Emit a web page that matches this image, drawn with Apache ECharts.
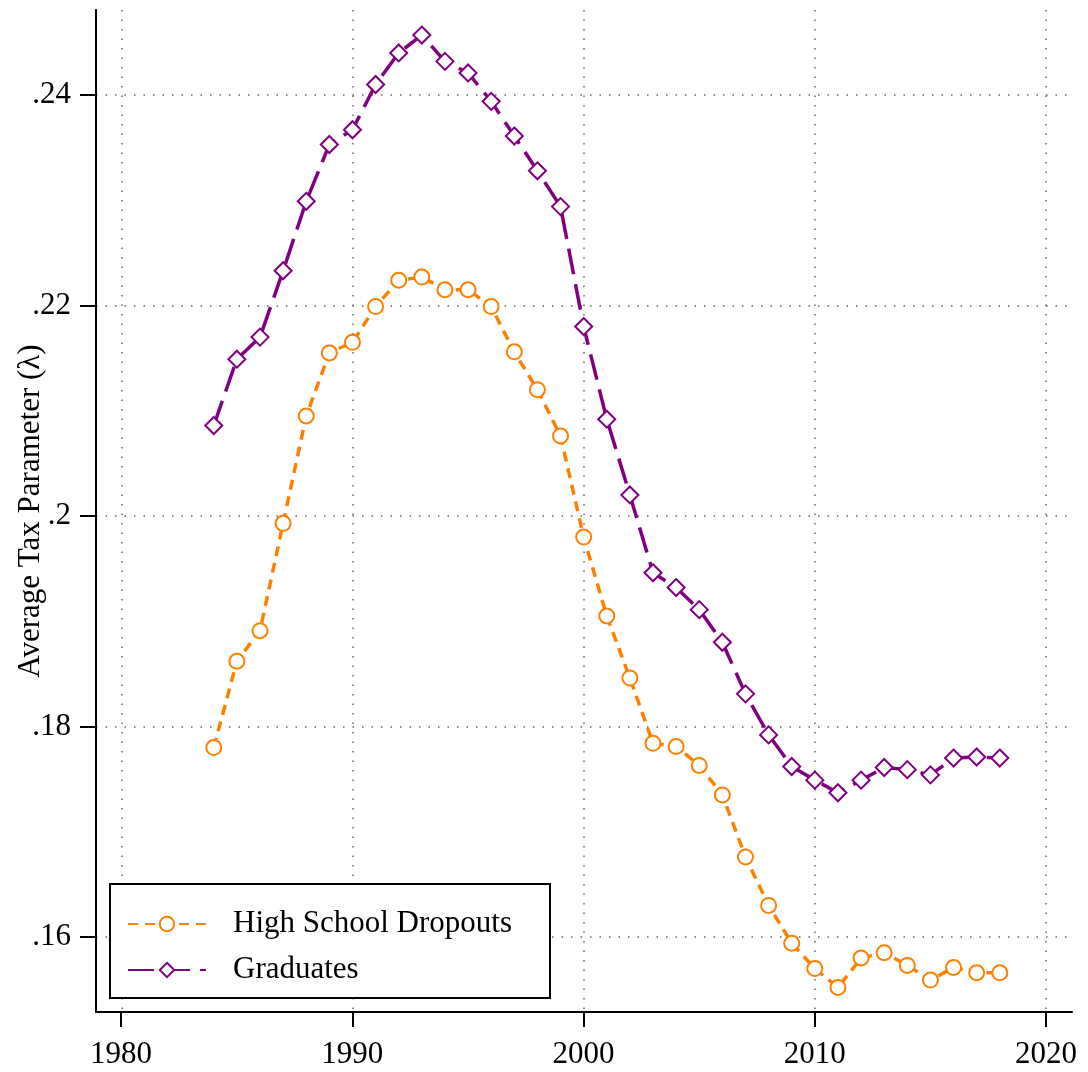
<!DOCTYPE html>
<html>
<head>
<meta charset="utf-8">
<script src="https://cdn.jsdelivr.net/npm/echarts@6/dist/echarts.min.js"></script>
<style>
html,body{margin:0;padding:0;background:#fff;}
#chart{width:1088px;height:1072px;}
</style>
</head>
<body>
<div id="chart"></div>
<script>
const years = [1984,1985,1986,1987,1988,1989,1990,1991,1992,1993,1994,1995,1996,1997,1998,1999,2000,2001,2002,2003,2004,2005,2006,2007,2008,2009,2010,2011,2012,2013,2014,2015,2016,2017,2018];
const dropouts = [0.1780,0.1862,0.1891,0.1993,0.2095,0.2155,0.2165,0.2199,0.2224,0.2227,0.2215,0.2215,0.2199,0.2156,0.2120,0.2076,0.1980,0.1905,0.1846,0.1784,0.1781,0.1763,0.1735,0.1676,0.1630,0.1594,0.1570,0.1552,0.1580,0.1585,0.1573,0.1559,0.1571,0.1566,0.1566];
const graduates = [0.2086,0.2149,0.2170,0.2233,0.2299,0.2353,0.2367,0.2410,0.2440,0.2457,0.2432,0.2421,0.2394,0.2361,0.2328,0.2294,0.2180,0.2092,0.2020,0.1946,0.1932,0.1911,0.1880,0.1831,0.1792,0.1762,0.1749,0.1737,0.1749,0.1761,0.1759,0.1754,0.1770,0.1771,0.1770];
const xTicks = [1980,1990,2000,2010,2020];
const yTicks = [0.16,0.18,0.20,0.22,0.24];
const seriesNames = ['High School Dropouts','Graduates'];
const yAxisTitle = 'Average Tax Parameter (λ)';

const FONT = '"Liberation Serif", "DejaVu Serif", serif';
const chart = echarts.init(document.getElementById('chart'));
const gridLine = {show:true, lineStyle:{color:'#666', width:1.5, type:[1.5,8]}};
const fmtY = v => {
  let s = (Math.round(v*100)/100).toString();
  return s.replace(/^0/, '');
};
// plot area: x 96..1072, y 10..1012 ; tick span: x 1980..2020 -> 121..1046, y .16...24 -> 937..95
chart.setOption({
  animation:false,
  backgroundColor:'#fff',
  grid:[
    {left:96, right:16, top:10, bottom:60, containLabel:false, outerBoundsMode:'none'},
    {left:121, right:42, top:95, bottom:135, containLabel:false, outerBoundsMode:'none'}
  ],
  xAxis:[
    {
      gridIndex:0, type:'value', min:1978.906, max:2021.124,
      axisLine:{show:true, onZero:false, lineStyle:{color:'#000', width:2}},
      axisTick:{show:false, customValues:xTicks},
      axisLabel:{show:false, customValues:xTicks},
      splitLine:gridLine
    },
    {
      gridIndex:1, type:'value', min:xTicks[0], max:xTicks[xTicks.length-1], interval:10,
      offset:75,
      axisLine:{show:false, onZero:false},
      axisTick:{show:true, inside:false, length:15, lineStyle:{color:'#000', width:2}},
      axisLabel:{show:true, color:'#000', fontFamily:FONT, fontSize:31, margin:27, formatter:v=>String(v)},
      splitLine:{show:false}
    }
  ],
  yAxis:[
    {
      gridIndex:0, type:'value', min:0.15287, max:0.24808,
      name:yAxisTitle, nameLocation:'middle', nameGap:50, nameRotate:90, nameMoveOverlap:false,
      nameTextStyle:{color:'#000', fontFamily:FONT, fontSize:31},
      axisLine:{show:true, onZero:false, lineStyle:{color:'#000', width:2}},
      axisTick:{show:false, customValues:yTicks},
      axisLabel:{show:false, customValues:yTicks},
      splitLine:gridLine
    },
    {
      gridIndex:1, type:'value', min:yTicks[0], max:yTicks[yTicks.length-1], interval:0.02,
      offset:25,
      axisLine:{show:false, onZero:false},
      axisTick:{show:true, inside:false, length:16, lineStyle:{color:'#000', width:2}},
      axisLabel:{show:true, color:'#000', fontFamily:FONT, fontSize:31, margin:25, formatter:fmtY},
      splitLine:{show:false}
    }
  ],
  legend:{
    show:true, left:110, top:884, orient:'vertical',
    backgroundColor:'#fff', borderColor:'#000', borderWidth:2, borderRadius:0,
    padding:[23,38,11,17], itemGap:12, itemWidth:78, itemHeight:18,
    textStyle:{color:'#000', fontFamily:FONT, fontSize:31, lineHeight:34, padding:[0,0,0,22]},
    data:seriesNames
  },
  series:[
    {
      name:seriesNames[0], type:'line', xAxisIndex:0, yAxisIndex:0,
      data:years.map((y,i)=>[y, dropouts[i]]),
      symbol:'emptyCircle', symbolSize:15,
      lineStyle:{color:'#ff8000', width:3.5, type:[10,7]},
      itemStyle:{color:'#ff8000', borderWidth:3.8},
      z:3
    },
    {
      name:seriesNames[1], type:'line', xAxisIndex:0, yAxisIndex:0,
      data:years.map((y,i)=>[y, graduates[i]]),
      symbol:'emptyDiamond', symbolSize:17,
      lineStyle:{color:'#800080', width:3.5, type:[26,10]},
      itemStyle:{color:'#800080', borderWidth:3.8},
      z:3
    }
  ]
});
</script>
</body>
</html>
